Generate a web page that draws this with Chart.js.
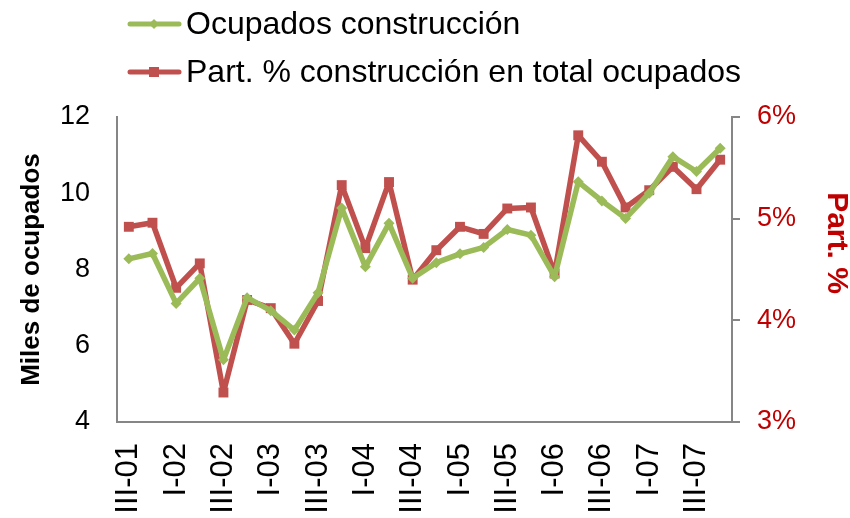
<!DOCTYPE html>
<html lang="es">
<head>
  <meta charset="UTF-8">
  <title>Ocupados construcción</title>
  <script src="https://cdn.jsdelivr.net/npm/chart.js"></script>
  <style>
    html, body { margin: 0; padding: 0; background: #fff; overflow: hidden; }
    #grafico { display: block; }
  </style>
</head>
<body>
  <canvas id="grafico" width="850" height="518"></canvas>

  <script>
    // trimestres III-01 .. IV-07
    const trimestres = [
      'III-01', 'IV-01',
      'I-02', 'II-02', 'III-02', 'IV-02',
      'I-03', 'II-03', 'III-03', 'IV-03',
      'I-04', 'II-04', 'III-04', 'IV-04',
      'I-05', 'II-05', 'III-05', 'IV-05',
      'I-06', 'II-06', 'III-06', 'IV-06',
      'I-07', 'II-07', 'III-07', 'IV-07'
    ];

    // miles de ocupados en construcción (eje izq.)
    const ocupados = [8.28, 8.42, 7.11, 7.77, 5.63, 7.26, 6.92, 6.41, 7.39, 9.61, 8.07, 9.21, 7.77,
      8.18, 8.41, 8.58, 9.05, 8.90, 7.81, 10.30, 9.80, 9.34, 10.00, 10.96, 10.57, 11.18];

    // participación % de construcción en total ocupados (eje der.)
    const participacion = [4.92, 4.96, 4.32, 4.56, 3.29, 4.20, 4.12, 3.77, 4.19, 5.33, 4.71, 5.36, 4.40,
      4.69, 4.92, 4.85, 5.10, 5.11, 4.46, 5.82, 5.56, 5.11, 5.28, 5.51, 5.29, 5.58];

    const verde = '#9BBB59';
    const rojo = '#C0504D';
    const rojoTexto = '#C00000';
    const gris = '#868686';
    const fuente = "'Liberation Sans', Arial, sans-serif";

    // leyenda y título derecho dibujados a mano
    const extras = {
      id: 'extras',
      afterDraw(chart) {
        const ctx = chart.ctx;
        chart.data.datasets.forEach((ds, i) => {
          const y = 24 + i * 48;
          ctx.save();
          ctx.strokeStyle = ds.borderColor;
          ctx.lineWidth = 5;
          ctx.lineCap = 'round';
          ctx.beginPath();
          ctx.moveTo(130, y);
          ctx.lineTo(179, y);
          ctx.stroke();
          ctx.fillStyle = ds.borderColor;
          if (ds.pointStyle === 'rect') {
            ctx.fillRect(149, y - 5, 10, 10);
          } else {
            ctx.beginPath();
            ctx.moveTo(154, y - 5);
            ctx.lineTo(159, y);
            ctx.lineTo(154, y + 5);
            ctx.lineTo(149, y);
            ctx.closePath();
            ctx.fill();
          }
          ctx.fillStyle = '#000';
          ctx.font = '32px ' + fuente;
          ctx.textBaseline = 'middle';
          ctx.textAlign = 'left';
          ctx.fillText(ds.label, 186, y + 1);
          ctx.restore();
        });

        ctx.save();
        ctx.translate(836, 243);
        ctx.rotate(Math.PI / 2);
        ctx.fillStyle = rojoTexto;
        ctx.font = 'bold 30px ' + fuente;
        ctx.textAlign = 'center';
        ctx.textBaseline = 'middle';
        ctx.fillText('Part. %', 0, 0);
        ctx.restore();
      }
    };

    new Chart(document.getElementById('grafico'), {
      type: 'line',
      data: {
        labels: trimestres,
        datasets: [{
          label: 'Ocupados construcción',
          data: ocupados,
          yAxisID: 'y',
          borderColor: verde,
          backgroundColor: verde,
          borderWidth: 5.5,
          borderJoinStyle: 'round',
          pointStyle: 'rectRot',
          pointRadius: 5.5,
          pointBorderWidth: 0,
          tension: 0
        }, {
          label: 'Part. % construcción en total ocupados',
          data: participacion,
          yAxisID: 'y1',
          borderColor: rojo,
          backgroundColor: rojo,
          borderWidth: 5.5,
          borderJoinStyle: 'round',
          pointStyle: 'rect',
          pointRadius: 7,
          pointBorderWidth: 0,
          tension: 0
        }]
      },
      options: {
        responsive: false,
        animation: false,
        devicePixelRatio: 1,
        layout: { padding: { top: 117, left: 0, right: 0, bottom: 0 } },
        plugins: {
          legend: { display: false },
          tooltip: { enabled: false }
        },
        scales: {
          x: {
            offset: true,
            grid: { display: false },
            border: { color: gris, width: 2 },
            ticks: {
              autoSkip: false,
              minRotation: 90,
              maxRotation: 90,
              padding: 13,
              color: '#000',
              font: { family: fuente, size: 31 },
              callback: function (v, i) { return i % 2 === 0 ? this.getLabelForValue(v) : ''; }
            },
            afterFit: s => { s.height = 96; }
          },
          y: {
            position: 'left',
            min: 4,
            max: 12,
            grid: { display: false },
            border: { color: gris, width: 2 },
            ticks: {
              stepSize: 2,
              padding: 19,
              color: '#000',
              font: { family: fuente, size: 27 }
            },
            title: {
              display: true,
              text: 'Miles de ocupados',
              color: '#000',
              font: { family: fuente, size: 26, weight: 'bold' },
              padding: { top: 16, bottom: 0 }
            },
            afterFit: s => { s.width = 117; }
          },
          y1: {
            position: 'right',
            min: 3,
            max: 6,
            grid: { drawOnChartArea: false, drawTicks: true, tickLength: 8, color: gris, lineWidth: 2 },
            border: { color: gris, width: 2 },
            ticks: {
              stepSize: 1,
              padding: 17,
              color: rojoTexto,
              font: { family: fuente, size: 27 },
              callback: v => v + '%'
            },
            afterFit: s => { s.width = 118; }
          }
        }
      },
      plugins: [extras]
    });
  </script>
</body>
</html>
